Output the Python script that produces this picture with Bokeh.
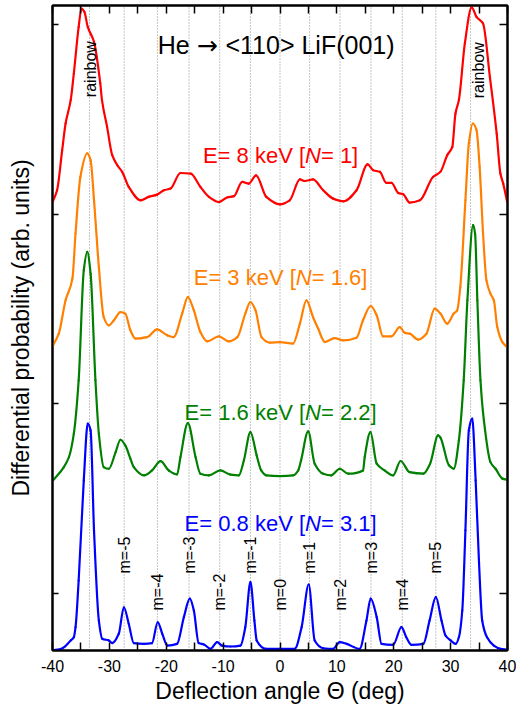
import math
from bokeh.plotting import figure
from bokeh.models import Range1d, LinearAxis, FixedTicker, ColumnDataSource, CustomJSTickFormatter
from bokeh.core.properties import value
from bokeh.embed import file_html
from bokeh.resources import INLINE

FONT = "Liberation Sans"

# Measured spectra: (deflection angle in deg, offset intensity in arb. units)
red_pts = [(-40.0, 2.363), (-39.2, 2.426), (-38.3, 2.637), (-37.7, 2.778), (-36.8, 2.901),
           (-36.25, 3.042), (-35.4, 3.287), (-34.9, 3.384), (-34.4, 3.367), (-33.8, 3.287),
           (-32.7, 3.208), (-31.6, 2.989), (-31.3, 2.901), (-30.4, 2.760), (-29.5, 2.611),
           (-28.6, 2.558), (-27.75, 2.523), (-26.6, 2.444), (-24.5, 2.373), (-23.1, 2.391),
           (-21.6, 2.403), (-20.4, 2.426), (-19.25, 2.435), (-17.5, 2.517), (-15.7, 2.514),
           (-14.0, 2.444), (-12.5, 2.391), (-10.75, 2.364), (-9.3, 2.388), (-8.1, 2.395),
           (-6.65, 2.470), (-5.5, 2.461), (-4.2, 2.505), (-2.4, 2.391), (0.0, 2.352),
           (1.7, 2.373), (3.5, 2.483), (4.35, 2.475), (5.8, 2.483), (7.6, 2.426),
           (9.35, 2.382), (11.2, 2.368), (13.45, 2.426), (15.4, 2.562), (16.4, 2.532),
           (17.55, 2.523), (18.7, 2.465), (19.6, 2.465), (20.8, 2.412), (21.65, 2.405),
           (22.8, 2.361), (24.6, 2.373), (26.9, 2.496), (28.2, 2.523), (29.4, 2.611),
           (30.3, 2.655), (30.85, 2.831), (31.45, 2.901), (32.5, 3.200), (33.7, 3.390),
           (34.55, 3.340), (35.7, 3.305), (36.9, 3.024), (38.1, 2.725), (38.75, 2.514),
           (39.25, 2.461), (39.95, 2.364)]

orange_pts = [(-39.9, 1.609), (-38.9, 1.670), (-37.7, 1.846), (-36.5, 1.960), (-35.95, 2.198),
              (-35.1, 2.496), (-33.9, 2.620), (-33.3, 2.584), (-32.7, 2.373), (-31.85, 2.022),
              (-31.0, 1.758), (-30.1, 1.714), (-29.2, 1.741), (-28.05, 1.784), (-27.2, 1.776),
              (-26.3, 1.688), (-25.4, 1.644), (-23.35, 1.652), (-21.6, 1.693), (-19.8, 1.661),
              (-18.7, 1.652), (-17.2, 1.776), (-16.2, 1.863), (-15.15, 1.793), (-14.0, 1.679),
              (-12.8, 1.630), (-10.75, 1.656), (-9.0, 1.630), (-7.5, 1.652), (-6.1, 1.776),
              (-5.2, 1.837), (-4.3, 1.793), (-3.25, 1.652), (-1.8, 1.623), (0.0, 1.626),
              (2.3, 1.618), (3.5, 1.723), (4.65, 1.846), (5.8, 1.758), (6.7, 1.697),
              (7.9, 1.626), (9.6, 1.647), (11.1, 1.635), (13.45, 1.649), (14.6, 1.741),
              (15.95, 1.816), (17.0, 1.767), (18.1, 1.656), (19.6, 1.656), (21.05, 1.705),
              (21.95, 1.674), (22.8, 1.670), (24.3, 1.639), (25.75, 1.670), (27.2, 1.802),
              (28.2, 1.776), (29.4, 1.723), (30.55, 1.776), (31.15, 1.793), (31.7, 1.916),
              (32.6, 2.373), (33.2, 2.672), (33.9, 2.778), (34.55, 2.743), (35.1, 2.549),
              (35.7, 2.198), (36.3, 1.951), (37.0, 1.881), (37.6, 1.846), (38.2, 1.705),
              (39.1, 1.626), (39.8, 1.603)]

green_pts = [(-39.8, 0.900), (-38.0, 0.967), (-37.1, 1.020), (-36.25, 1.143), (-35.4, 1.424),
             (-34.5, 2.004), (-33.9, 2.101), (-33.3, 1.987), (-32.45, 1.424), (-31.85, 1.143),
             (-31.0, 0.967), (-30.1, 0.958), (-28.9, 1.046), (-28.05, 1.111), (-27.2, 1.081),
             (-26.3, 1.011), (-25.7, 0.967), (-23.9, 0.923), (-22.5, 0.949), (-21.0, 0.998),
             (-19.55, 0.949), (-18.1, 0.928), (-17.5, 1.020), (-16.2, 1.199), (-14.85, 1.020),
             (-14.0, 0.932), (-12.5, 0.923), (-10.5, 0.949), (-8.7, 0.927), (-7.25, 0.923),
             (-6.35, 1.002), (-5.2, 1.151), (-4.1, 1.028), (-3.3, 0.949), (-2.4, 0.923),
             (0.0, 0.919), (2.3, 0.923), (3.2, 0.949), (3.7, 1.002), (4.95, 1.155),
             (6.1, 0.985), (7.6, 0.932), (9.0, 0.923), (10.5, 0.958), (12.0, 0.932),
             (14.6, 0.949), (14.9, 1.020), (15.9, 1.151), (17.0, 0.985), (18.4, 0.949),
             (19.9, 0.923), (21.2, 0.999), (22.8, 0.940), (25.2, 0.932), (26.4, 0.985),
             (27.8, 1.134), (28.2, 1.123), (29.7, 0.976), (30.55, 0.958), (31.45, 1.108),
             (32.3, 1.424), (32.95, 1.846), (33.95, 2.242), (34.3, 2.198), (34.7, 1.846),
             (35.25, 1.424), (35.85, 1.213), (37.0, 0.993), (37.9, 0.958), (39.1, 0.906),
             (39.9, 0.900)]

blue_pts = [(-40.0, 0.000), (-38.3, 0.011), (-36.8, 0.053), (-36.25, 0.070), (-35.95, 0.123),
            (-35.4, 0.369), (-34.5, 0.897), (-33.8, 1.196), (-33.3, 1.160), (-32.7, 0.633),
            (-31.85, 0.158), (-31.25, 0.062), (-30.1, 0.053), (-29.5, 0.039), (-28.35, 0.088),
            (-27.45, 0.228), (-26.6, 0.141), (-25.7, 0.039), (-23.9, 0.035), (-22.5, 0.039),
            (-21.5, 0.149), (-20.7, 0.088), (-19.8, 0.026), (-18.1, 0.035), (-16.9, 0.176),
            (-15.85, 0.273), (-15.15, 0.211), (-14.3, 0.039), (-13.4, 0.032), (-12.2, 0.009),
            (-11.05, 0.044), (-10.2, 0.026), (-8.7, 0.021), (-6.95, 0.026), (-6.1, 0.123),
            (-5.2, 0.360), (-4.5, 0.158), (-4.1, 0.053), (-2.4, 0.009), (0.0, 0.009),
            (2.6, 0.009), (3.8, 0.123), (5.05, 0.348), (6.1, 0.053), (7.6, 0.012),
            (9.35, 0.009), (10.5, 0.044), (11.7, 0.035), (14.0, 0.009), (15.2, 0.158),
            (15.95, 0.273), (17.0, 0.176), (17.85, 0.035), (19.9, 0.030), (21.35, 0.123),
            (22.2, 0.070), (23.1, 0.030), (25.2, 0.035), (26.3, 0.158), (27.4, 0.281),
            (28.4, 0.158), (29.1, 0.079), (30.0, 0.053), (30.9, 0.035), (31.45, 0.070),
            (32.05, 0.211), (32.6, 0.633), (33.2, 1.160), (33.8, 1.222), (34.4, 0.897),
            (35.0, 0.457), (35.55, 0.158), (36.4, 0.070), (37.6, 0.026), (38.75, 0.009),
            (39.9, 0.004)]

series_colors = ["#ff0000", "#ff8000", "#008000", "#0000ff"]
energies = ["8", "3", "1.6", "0.8"]
n_values = ["1", "1.6", "2.2", "3.1"]
energy_label_y = [2.608, 1.967, 1.255, 0.672]

# rainbow angles and diffraction orders m = -5 .. 5
rainbow_x = [-33.5, 33.5]
order_x = [-27.4, -21.55, -16.0, -10.6, -5.2, 0.0, 5.2, 10.55, 16.0, 21.5, 27.4]
order_labels = ["m=-5", "m=-4", "m=-3", "m=-2", "m=-1", "m=0",
                "m=1", "m=2", "m=3", "m=4", "m=5"]
order_label_y = [0.406, 0.211, 0.406, 0.211, 0.406, 0.211,
                 0.406, 0.211, 0.406, 0.211, 0.406]

x_ticks = [-40, -30, -20, -10, 0, 10, 20, 30, 40]
x_minor = [-35, -25, -15, -5, 5, 15, 25, 35]
y_ticks = [0.3, 1.3, 2.3, 3.3]

p = figure(width=516, height=706, output_backend="svg", toolbar_location=None,
           x_range=Range1d(-40, 40), y_range=Range1d(0, 3.40),
           min_border_left=52, min_border_right=9, min_border_top=5, min_border_bottom=56)
p.xgrid.visible = False
p.ygrid.visible = False
p.background_fill_color = "white"
p.border_fill_color = "white"
p.outline_line_color = "black"
p.outline_line_width = 2

# dotted guide lines at rainbow and diffraction angles
guide_x = [rainbow_x[0]] + order_x + [rainbow_x[1]]
p.segment(x0=guide_x, y0=0, x1=guide_x, y1=3.40, line_color="#8a8a8a",
          line_width=1, line_dash="1 2")


def smooth_segments(pts):
    """Monotone cubic (Fritsch-Butland) Bezier pieces passing through every point."""
    xs = [a for a, _ in pts]
    ys = [b for _, b in pts]
    n = len(xs)
    h = [xs[i + 1] - xs[i] for i in range(n - 1)]
    d = [(ys[i + 1] - ys[i]) / h[i] for i in range(n - 1)]
    m = [0.0] * n
    m[0], m[-1] = d[0], d[-1]
    for i in range(1, n - 1):
        if d[i - 1] * d[i] <= 0:
            m[i] = 0.0
        else:
            w1 = 2 * h[i] + h[i - 1]
            w2 = h[i] + 2 * h[i - 1]
            m[i] = (w1 + w2) / (w1 / d[i - 1] + w2 / d[i])
    seg = dict(x0=[], y0=[], x1=[], y1=[], cx0=[], cy0=[], cx1=[], cy1=[])
    for i in range(n - 1):
        seg["x0"].append(xs[i])
        seg["y0"].append(ys[i])
        seg["x1"].append(xs[i + 1])
        seg["y1"].append(ys[i + 1])
        seg["cx0"].append(xs[i] + h[i] / 3)
        seg["cy0"].append(ys[i] + m[i] * h[i] / 3)
        seg["cx1"].append(xs[i + 1] - h[i] / 3)
        seg["cy1"].append(ys[i + 1] - m[i + 1] * h[i] / 3)
    return seg


for pts, col in zip([red_pts, orange_pts, green_pts, blue_pts], series_colors):
    src = ColumnDataSource(smooth_segments(pts))
    p.bezier(x0="x0", y0="y0", x1="x1", y1="y1", cx0="cx0", cy0="cy0",
             cx1="cx1", cy1="cy1", source=src, line_color=col, line_width=2.2,
             line_cap="round")

# advance widths (1/1000 em) used to place mixed-style text runs
ADV = {"E": 667, "=": 584, " ": 278, ".": 278, "k": 500, "e": 556, "V": 667,
       "[": 278, "]": 278, "N": 722, "H": 722, "<": 584, ">": 584, "L": 556,
       "i": 222, "F": 611, "(": 333, ")": 333, "\u2192": 1150}
for dgt in "0123456789":
    ADV[dgt] = 556


def width(s, size):
    return sum(ADV[c] for c in s) * size / 1000.0


def runs_offsets(parts, size):
    total = sum(width(t, size) for t in parts)
    offs, pos = [], -total / 2
    for t in parts:
        offs.append(pos)
        pos += width(t, size)
    return offs


# title: "He → <110> LiF(001)"
TITLE_SIZE = 25
title_parts = ["He ", "\u2192", " <110> LiF(001)"]
title_fonts = [FONT, "DejaVu Sans", FONT]
t_off = runs_offsets(title_parts, TITLE_SIZE)
for txt, fnt, xo in zip(title_parts, title_fonts, t_off):
    p.text(x=[0.1], y=[3.191], text=[txt], x_offset=xo, text_align="left",
           text_baseline="alphabetic", text_font=value(fnt),
           text_font_size="%dpx" % TITLE_SIZE, text_color="black")

# rainbow labels
p.text(x=[-33.3, 34.9], y=[2.917, 2.911], text=["rainbow", "rainbow"], angle=math.pi / 2,
       text_align="left", text_baseline="alphabetic", text_font=value(FONT),
       text_font_size="16px", text_color="black")

# diffraction order labels
p.text(x=order_x, y=order_label_y, text=order_labels, angle=math.pi / 2,
       text_align="left", text_baseline="alphabetic", text_font=value(FONT),
       text_font_size="16px", text_color="black")

# energy labels "E= .. keV [N= ..]" with italic N
LABEL_SIZE = 22
pre_txt, n_txt, post_txt, xo_pre, xo_n, xo_post = [], [], [], [], [], []
for e, n in zip(energies, n_values):
    parts = ["E= %s keV [" % e, "N", "= %s]" % n]
    o = runs_offsets(parts, LABEL_SIZE)
    pre_txt.append(parts[0])
    n_txt.append(parts[1])
    post_txt.append(parts[2])
    xo_pre.append(o[0])
    xo_n.append(o[1])
    xo_post.append(o[2])

lab = ColumnDataSource(dict(x=[0.1] * 4, y=energy_label_y, color=series_colors,
                            pre=pre_txt, n=n_txt, post=post_txt,
                            xo_pre=xo_pre, xo_n=xo_n, xo_post=xo_post))
common = dict(text_align="left", text_baseline="alphabetic", text_font=value(FONT),
              text_font_size="%dpx" % LABEL_SIZE, text_color="color", source=lab)
p.text(x="x", y="y", text="pre", x_offset="xo_pre", **common)
p.text(x="x", y="y", text="n", x_offset="xo_n", text_font_style="italic", **common)
p.text(x="x", y="y", text="post", x_offset="xo_post", **common)

# axes
blank = CustomJSTickFormatter(code="return '';")

xa = p.xaxis[0]
xa.ticker = FixedTicker(ticks=x_ticks, minor_ticks=x_minor)
xa.axis_label = "Deflection angle \u0398 (deg)"
xa.major_label_overrides = {t: str(t) for t in x_ticks}

ya = p.yaxis[0]
ya.ticker = FixedTicker(ticks=y_ticks, minor_ticks=[])
ya.axis_label = "Differential probability (arb. units)"
ya.formatter = blank
ya.major_label_text_font_size = "1px"
ya.major_label_standoff = 0

top = LinearAxis(ticker=FixedTicker(ticks=x_ticks, minor_ticks=x_minor), formatter=blank)
top.major_label_text_font_size = "1px"
top.major_label_standoff = 0
right = LinearAxis(ticker=FixedTicker(ticks=y_ticks, minor_ticks=[]), formatter=blank)
right.major_label_text_font_size = "1px"
right.major_label_standoff = 0
p.add_layout(top, "above")
p.add_layout(right, "right")

for ax in [xa, ya, top, right]:
    ax.axis_line_width = 2
    ax.axis_line_color = "black"
    ax.major_tick_in = 8
    ax.major_tick_out = 0
    ax.minor_tick_in = 8
    ax.minor_tick_out = 0
    ax.major_tick_line_width = 1.5
    ax.minor_tick_line_width = 1.5
    ax.major_tick_line_color = "black"
    ax.minor_tick_line_color = "black"
    ax.axis_label_text_font = FONT
    ax.axis_label_text_font_style = "normal"
    ax.axis_label_text_font_size = "23px"
    ax.axis_label_text_color = "black"
    ax.major_label_text_font = FONT

xa.major_label_text_font_size = "16px"
xa.major_label_text_color = "black"
xa.major_label_standoff = 9
xa.axis_label_standoff = 3
ya.axis_label_standoff = 19
ya.major_tick_in = 6
right.major_tick_in = 8

open("out.html", "w").write(file_html(p, INLINE))
